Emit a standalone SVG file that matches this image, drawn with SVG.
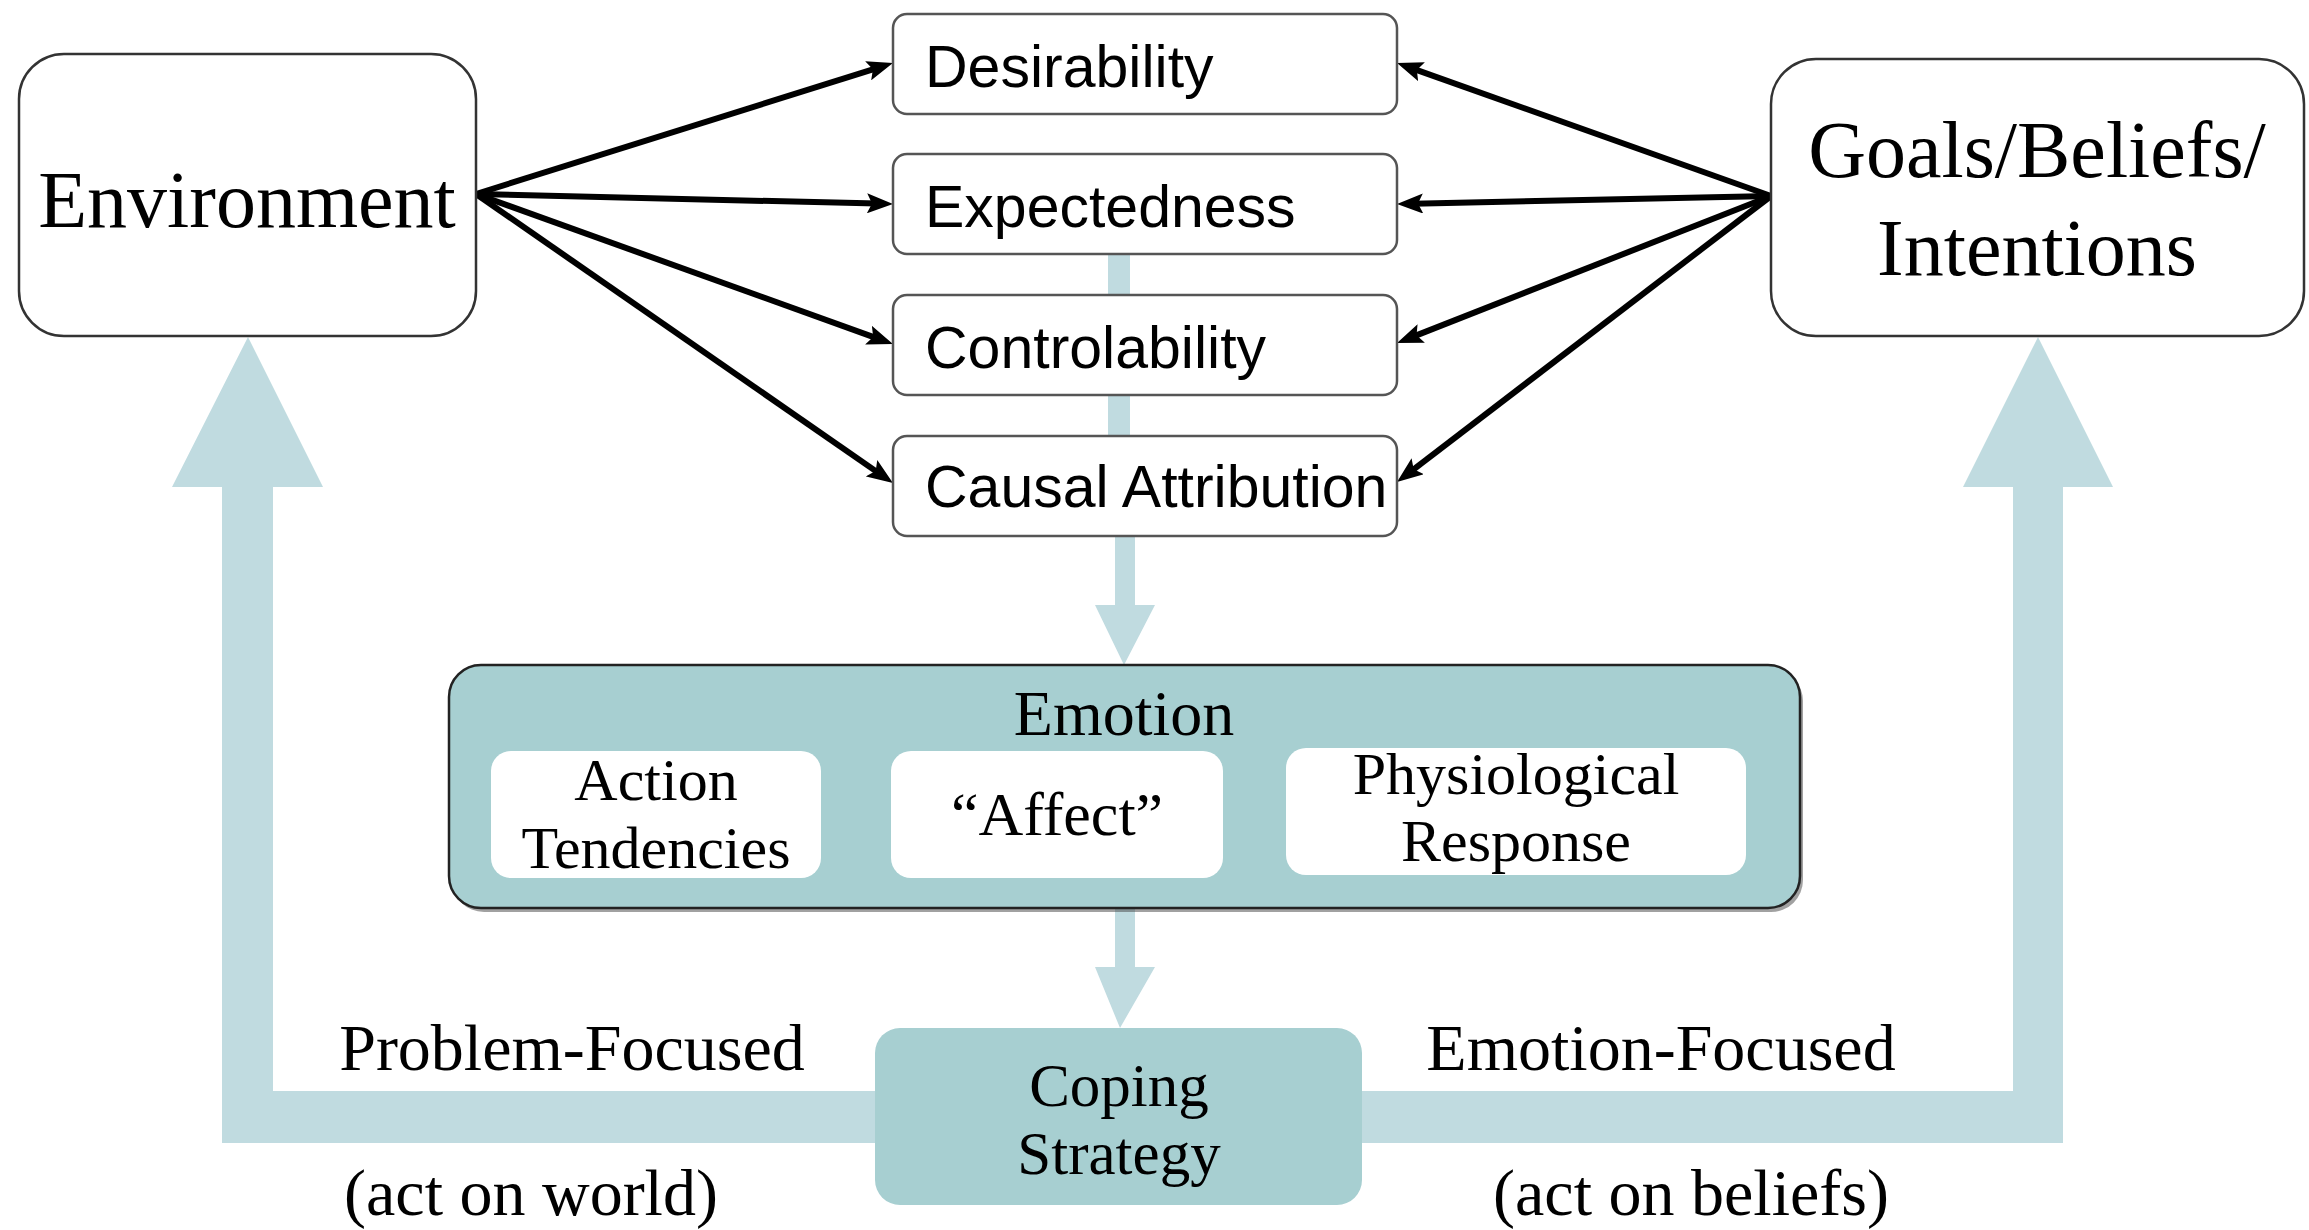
<svg xmlns="http://www.w3.org/2000/svg" width="2309" height="1230" viewBox="0 0 2309 1230">
  <style>
    .serif { font-family: "Liberation Serif", "Times New Roman", serif; fill: #000; }
    .sans { font-family: "Liberation Sans", Arial, sans-serif; fill: #000; font-size: 59px; }
    .big { font-size: 80px; text-anchor: middle; }
    .mid { font-size: 66px; text-anchor: middle; }
    .inner { font-size: 60px; text-anchor: middle; }
    .outer { fill: #fff; stroke: #333; stroke-width: 2.5; }
    .appraisal { fill: #fff; stroke: #555; stroke-width: 2.5; }
    .flow { fill: #c0dbe0; }
    .teal { fill: #a7cfd1; }
    .edge { fill: none; stroke: #000; stroke-width: 6; marker-end: url(#head); }
  </style>
  <defs>
    <marker id="head" markerUnits="userSpaceOnUse" viewBox="0 0 26 20" markerWidth="26" markerHeight="20" refX="10" refY="10" orient="auto">
      <path d="M0,0 L26,10 L0,20 L5,10 z" fill="#000"/>
    </marker>
  </defs>
  <rect width="2309" height="1230" fill="#fff"/>

  <g id="flows">
    <polygon class="flow" points="876,1091 273,1091 273,487 323,487 248,337 172,487 222,487 222,1143 876,1143"/>
    <polygon class="flow" points="1362,1091 2013,1091 2013,487 1963,487 2038,337 2113,487 2063,487 2063,1143 1362,1143"/>
    <rect class="flow" x="1108" y="254" width="22" height="282"/>
    <polygon class="flow" points="1115,535 1135,535 1135,605 1155,605 1124,665 1095,605 1115,605"/>
    <polygon class="flow" points="1115,908 1135,908 1135,967 1155,967 1120,1028 1095,967 1115,967"/>
  </g>

  <g id="connectors">
    <line class="edge" x1="476" y1="194" x2="877.7" y2="67.8"/>
    <line class="edge" x1="476" y1="194" x2="877" y2="203.6"/>
    <line class="edge" x1="476" y1="194" x2="877.9" y2="338.6"/>
    <line class="edge" x1="476" y1="194" x2="879.8" y2="473.9"/>
    <line class="edge" x1="1771" y1="196" x2="1412.1" y2="68.4"/>
    <line class="edge" x1="1771" y1="196" x2="1413" y2="203.7"/>
    <line class="edge" x1="1771" y1="196" x2="1411.9" y2="337.1"/>
    <line class="edge" x1="1771" y1="196" x2="1409.7" y2="472.3"/>
  </g>

  <g id="environment">
    <rect class="outer" x="19" y="54" width="457" height="282" rx="45"/>
    <text class="serif big" x="247" y="227">Environment</text>
  </g>

  <g id="goals">
    <rect class="outer" x="1771" y="59" width="533" height="277" rx="45"/>
    <text class="serif big" x="2037" y="177">Goals/Beliefs/</text>
    <text class="serif big" x="2037" y="275">Intentions</text>
  </g>

  <g id="desirability">
    <rect class="appraisal" x="893" y="14" width="504" height="100" rx="14"/>
    <text class="sans" x="925" y="87">Desirability</text>
  </g>
  <g id="expectedness">
    <rect class="appraisal" x="893" y="154" width="504" height="100" rx="14"/>
    <text class="sans" x="925" y="227">Expectedness</text>
  </g>
  <g id="controlability">
    <rect class="appraisal" x="893" y="295" width="504" height="100" rx="14"/>
    <text class="sans" x="925" y="368">Controlability</text>
  </g>
  <g id="causal-attribution">
    <rect class="appraisal" x="893" y="436" width="504" height="100" rx="14"/>
    <text class="sans" x="925" y="507">Causal Attribution</text>
  </g>

  <g id="emotion">
    <rect x="452" y="669" width="1351" height="243" rx="32" fill="#444" opacity="0.5"/>
    <rect class="teal" x="449" y="665" width="1351" height="243" rx="32" stroke="#222" stroke-width="2.5"/>
    <text class="serif mid" x="1124" y="735" style="font-size:64px">Emotion</text>
    <g id="action-tendencies">
      <rect x="491" y="751" width="330" height="127" rx="20" fill="#fff"/>
      <text class="serif inner" x="656" y="800">Action</text>
      <text class="serif inner" x="656" y="868">Tendencies</text>
    </g>
    <g id="affect">
      <rect x="891" y="751" width="332" height="127" rx="20" fill="#fff"/>
      <text class="serif inner" x="1057" y="835" style="font-size:62px">“Affect”</text>
    </g>
    <g id="physiological-response">
      <rect x="1286" y="748" width="460" height="127" rx="20" fill="#fff"/>
      <text class="serif inner" x="1516" y="794">Physiological</text>
      <text class="serif inner" x="1516" y="861">Response</text>
    </g>
  </g>

  <g id="coping-strategy">
    <rect class="teal" x="875" y="1028" width="487" height="177" rx="25"/>
    <text class="serif mid" x="1119" y="1106" style="font-size:61px">Coping</text>
    <text class="serif mid" x="1119" y="1174" style="font-size:61px">Strategy</text>
  </g>

  <g id="labels">
    <text class="serif mid" x="572" y="1070">Problem-Focused</text>
    <text class="serif mid" x="531" y="1215">(act on world)</text>
    <text class="serif mid" x="1661" y="1070">Emotion-Focused</text>
    <text class="serif mid" x="1691" y="1215">(act on beliefs)</text>
  </g>
</svg>
